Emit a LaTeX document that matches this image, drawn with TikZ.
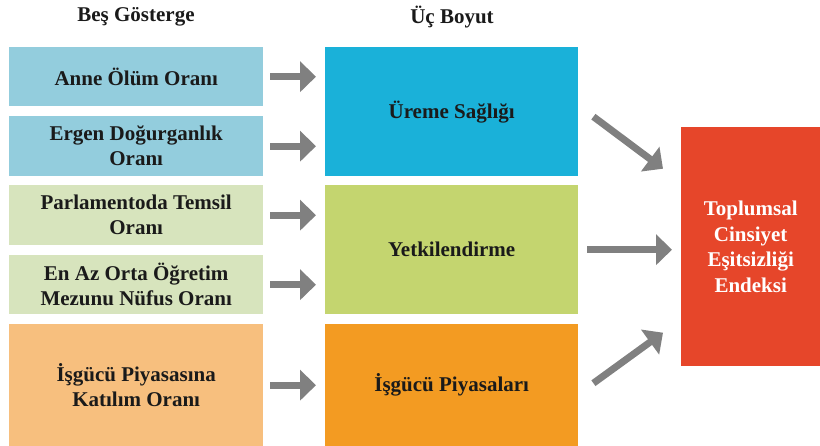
\documentclass[tikz,border=0pt]{standalone}
\usepackage{fontspec}
\setmainfont{Liberation Serif}[BoldFont={Liberation Serif Bold}]
\usetikzlibrary{arrows.meta,calc,positioning}

\definecolor{gostergemavi}{HTML}{93CDDD}
\definecolor{boyutmavi}{HTML}{1AB1D9}
\definecolor{gostergeyesil}{HTML}{D7E4BD}
\definecolor{boyutyesil}{HTML}{C4D56F}
\definecolor{gostergeturuncu}{HTML}{F7BF7E}
\definecolor{boyutturuncu}{HTML}{F39B22}
\definecolor{endekskirmizi}{HTML}{E6462A}
\definecolor{okgri}{HTML}{808080}
\definecolor{yazi}{HTML}{1A1A1A}

\tikzset{
  kutu/.style={anchor=north west, inner sep=0pt, align=center, text=yazi,
    font=\bfseries\fontsize{21}{25}\selectfont},
  gosterge/.style={kutu, minimum width=254pt},
  boyut/.style={kutu, minimum width=253pt, minimum height=129pt},
  baslik/.style={text=yazi, font=\bfseries\fontsize{21}{25}\selectfont},
  ok/.style={draw=okgri, line width=7pt, -{Triangle[length=16pt,width=30pt]}}
}

\begin{document}
\begin{tikzpicture}[x=1pt,y=-1pt]
\useasboundingbox (0,0) rectangle (820,446);
% basliklar
\node[baslik] (hd1) at (136,17) {Beş Gösterge};
\node[baslik] (hd2) at (452,17) {Üç Boyut};
% bes gosterge
\node[gosterge, fill=gostergemavi, minimum height=59pt] (g1) at (9,47) {Anne Ölüm Oranı};
\node[gosterge, fill=gostergemavi, minimum height=60pt] (g2) at (9,116) {Ergen Doğurganlık\\Oranı};
\node[gosterge, fill=gostergeyesil, minimum height=60pt] (g3) at (9,185) {Parlamentoda Temsil\\Oranı};
\node[gosterge, fill=gostergeyesil, minimum height=59pt] (g4) at (9,255) {En Az Orta Öğretim\\Mezunu Nüfus Oranı};
\node[gosterge, fill=gostergeturuncu, minimum height=122pt] (g5) at (9,324) {İşgücü Piyasasına\\Katılım Oranı};
% uc boyut
\node[boyut, fill=boyutmavi] (b1) at (325,47) {Üreme Sağlığı};
\node[boyut, fill=boyutyesil] (b2) at (325,185) {Yetkilendirme};
\node[boyut, fill=boyutturuncu, minimum height=122pt] (b3) at (325,324) {İşgücü Piyasaları};
% endeks
\node[kutu, fill=endekskirmizi, text=white, minimum width=139pt, minimum height=239pt,
  font=\bfseries\fontsize{21}{25.5}\selectfont] (end) at (681,127)
  {Toplumsal\\Cinsiyet\\Eşitsizliği\\Endeksi};
% oklar
\foreach \g/\b in {g1/b1, g2/b1, g3/b2, g4/b2, g5/b3}
  \draw[ok, shorten <=7pt, shorten >=9pt] (\g.east) -- (\g.east -| \b.west);
\draw[ok] ($(b1.east)+(15,5)$) -- ($(end.west)+(-18,-78)$);
\draw[ok] (b2.east) ++(9,0) -- ($(end.west |- b2.east)+(-9,0)$);
\draw[ok] ($(b3.east)+(15,-2)$) -- ($(end.west)+(-18,86)$);
\end{tikzpicture}
\end{document}
